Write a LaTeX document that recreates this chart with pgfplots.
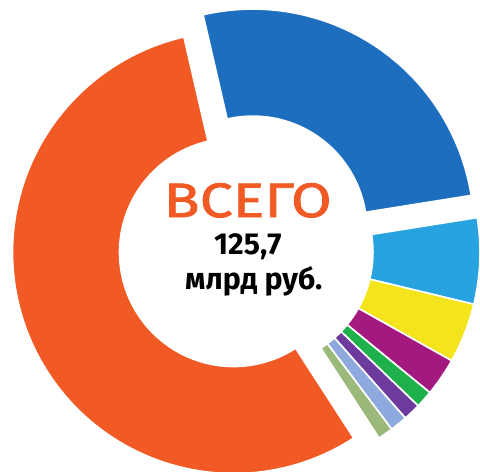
\documentclass[border=0pt]{standalone}
\usepackage{pgfplots}
\pgfplotsset{compat=1.18}
\usepackage{pgfplotstable}
\usepackage{fontspec}
\setmainfont{Fira Sans}
\newfontfamily\widefont[FakeStretch=1.22, FakeBold=1.6]{Fira Sans}
\definecolor{corange}{HTML}{F15A24}

% value in mlrd rub; cx, cy = centre of the (exploded) slice in picture units
\pgfplotstableread{
name value cx cy hex
Blue 32.8 255 239 1E6EC0
LightBlue 7.9 261 217 27A4E0
Yellow 5.5 261 217 F4E41B
Magenta 3.5 261 217 A3197F
Green 1.6 261 217 1EB04B
Violet 1.6 261 217 6D3B9D
Periwinkle 1.6 261 217 8EA9DD
Olive 1.4 261 217 9CB97C
Orange 69.8 236 217 F15A24
}\slices

\def\Ro{109.5pt}
\def\Ri{56.5pt}
\def\Rd{53pt}

% total
\def\total{0}
\pgfplotsforeachungrouped \i in {0,...,8}{%
  \pgfplotstablegetelem{\i}{value}\of\slices
  \pgfmathsetmacro\total{\total+\pgfplotsretval}%
}
% angles, centres, colours
\def\curang{103}
\pgfplotsforeachungrouped \i in {0,...,8}{%
  \pgfplotstablegetelem{\i}{value}\of\slices
  \pgfmathsetmacro\endang{\curang-\pgfplotsretval/\total*360}%
  \expandafter\xdef\csname sa\i\endcsname{\curang}%
  \expandafter\xdef\csname ea\i\endcsname{\endang}%
  \pgfplotstablegetelem{\i}{cx}\of\slices
  \expandafter\xdef\csname cx\i\endcsname{\pgfplotsretval}%
  \pgfplotstablegetelem{\i}{cy}\of\slices
  \expandafter\xdef\csname cy\i\endcsname{\pgfplotsretval}%
  \pgfplotstablegetelem{\i}{hex}\of\slices
  \edef\tmphex{\pgfplotsretval}%
  \definecolor{slice\i}{HTML}{\tmphex}%
  \xdef\curang{\endang}%
}

\begin{document}
\begin{tikzpicture}
\begin{axis}[x=0.5pt, y=0.5pt, xmin=0, xmax=480, ymin=0, ymax=467,
  hide axis, clip=true]
\pgfplotsforeachungrouped \i in {0,...,8}{%
  \edef\temp{\noexpand\fill[slice\i, draw=white, line width=0.8pt]
    (axis cs:\csname cx\i\endcsname,\csname cy\i\endcsname)
    ++(\csname sa\i\endcsname:\Ro)
    arc[start angle=\csname sa\i\endcsname, end angle=\csname ea\i\endcsname, radius=\Ro]
    -- ++(\csname ea\i\endcsname:-\Rd)
    arc[start angle=\csname ea\i\endcsname, end angle=\csname sa\i\endcsname, radius=\Ri]
    -- cycle;}%
  \temp
}
\node[anchor=base, text=corange, font=\widefont\fontsize{24}{24}\selectfont] at (axis cs:250,252) {ВСЕГО};
\node[anchor=base, font=\bfseries\fontsize{15}{15}\selectfont] at (axis cs:250,215) {125,7};
\node[anchor=base, font=\bfseries\fontsize{15}{15}\selectfont] at (axis cs:256,180) {млрд руб.};
\end{axis}
\end{tikzpicture}
\end{document}
